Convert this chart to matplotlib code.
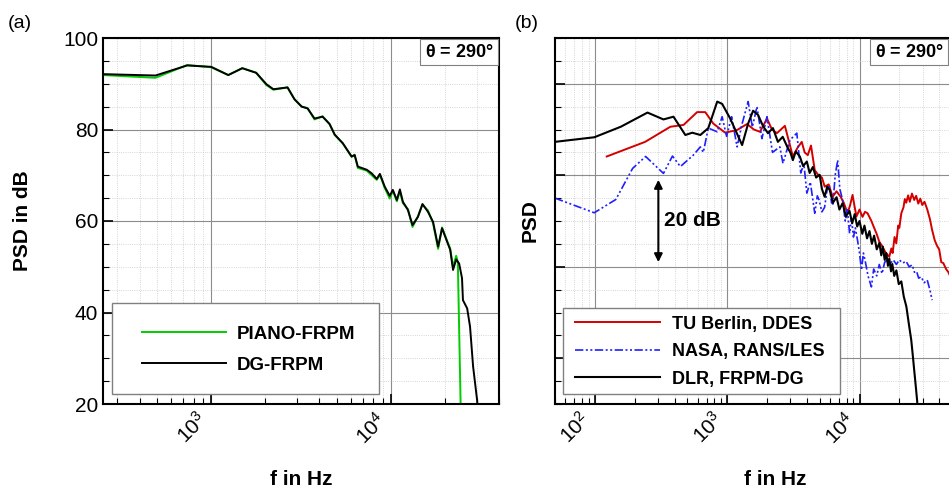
import numpy as np
import matplotlib
matplotlib.use("Agg")
import matplotlib.pyplot as plt
from matplotlib.patches import Rectangle
from matplotlib.ticker import LogLocator, MultipleLocator, NullFormatter, FuncFormatter

plt.rcParams['font.family'] = ['Liberation Sans', 'DejaVu Sans']
plt.rcParams['mathtext.default'] = 'regular'

# ---- panel (a) data ----
f_dg = [250, 490, 735, 1000, 1245, 1490, 1780, 2030, 2220, 2660, 2910, 3190, 3440,
        3760, 4170, 4560, 4870, 5400, 6050, 6290, 6550, 7350, 7830, 8350, 8690,
        9250, 9860, 10260, 10800, 11230, 11670, 12450, 13200, 14150, 15000, 16100,
        17180, 18330, 19280, 20560, 21400, 22200, 23100, 24000, 24900, 25200,
        26600, 27600, 28700, 30200, 31000]
psd_dg = [92.1, 91.8, 94.0, 93.7, 91.9, 93.4, 92.4, 89.9, 88.8, 89.2, 86.6, 85.0, 84.6,
          82.4, 82.8, 81.2, 78.9, 77.0, 74.1, 74.4, 71.9, 71.2, 70.4, 69.2, 70.3,
          67.5, 65.5, 66.8, 64.6, 66.9, 64.2, 62.4, 59.1, 60.9, 63.7, 62.0,
          59.8, 54.4, 58.4, 55.5, 53.7, 49.3, 51.6, 50.7, 47.5, 42.7,
          40.9, 36.9, 28.2, 20.9, 15.0]

f_piano = [250, 490, 735, 1000, 1245, 1490, 1780, 2030, 2220, 2660, 2910, 3190, 3440,
           3760, 4170, 4560, 4870, 5400, 6050, 6290, 6550, 7350, 7830, 8350, 8690,
           9250, 9860, 10260, 10800, 11230, 11670, 12450, 13200, 14150, 15000, 16100,
           17180, 18330, 19280, 20560, 21400, 22200, 23100, 23600, 24600]
psd_piano = [91.9, 91.3, 94.1, 93.6, 91.9, 93.4, 92.4, 89.7, 88.7, 89.2, 86.6, 85.0, 84.7,
             82.2, 82.9, 81.2, 78.8, 77.0, 74.0, 74.5, 71.6, 71.0, 70.0, 69.0, 70.1,
             67.2, 64.9, 66.6, 64.3, 66.5, 63.9, 62.6, 58.7, 61.0, 63.6, 62.3,
             59.5, 53.9, 58.6, 55.7, 54.0, 50.0, 52.4, 51.0, 15.0]

# ---- panel (b) data ----
f_dlr = [50, 99, 157, 250, 330, 393, 483, 545, 627, 720, 841, 916, 1054, 1297, 1440,
         1570, 1711, 1870, 2033, 2218, 2417, 2630, 2877, 3000, 3137, 3300, 3540, 3750,
         4000, 4200, 4440, 4700, 5000, 5200, 5450, 5700, 5950, 6300, 6710, 7050, 7450,
         7900, 8410, 8800, 9200, 9600, 10000, 10500, 10900, 11400, 11900, 12400, 12900,
         13500, 14130, 14600, 15000, 15500, 15950, 16400, 16800, 17300, 17700, 18300,
         19000, 19800, 20700, 21600, 22600, 23600, 24600, 25300, 25900, 26600, 27300,
         28000]
psd_dlr = [57.3, 58.3, 60.6, 63.7, 62.2, 62.8, 58.8, 59.3, 58.8, 60.3, 66.1, 65.6, 62.4,
           56.6, 61.3, 64.1, 63.2, 60.7, 59.2, 60.3, 57.3, 58.4, 55.9, 55.0, 53.3, 55.2,
           54.1, 52.0, 53.0, 50.5, 51.8, 49.5, 50.1, 47.0, 45.3, 47.5, 46.8, 44.0, 45.2,
           42.5, 43.9, 41.0, 42.2, 39.5, 41.5, 38.8, 40.0, 37.2, 39.0, 36.2, 37.8, 35.0,
           36.8, 33.8, 35.2, 32.5, 34.4, 31.5, 33.0, 30.2, 31.8, 29.0, 30.6, 28.0,
           29.2, 26.2, 26.8, 23.5, 21.3, 17.5, 14.0, 10.5, 7.4, 4.0, 0.5,
           -5.0]

f_tub = [123, 240, 372, 468, 593, 683, 785, 966, 1190, 1413, 1590, 1770, 2000, 2180,
         2377, 2730, 3136, 3400, 3660, 3850, 4066, 4300, 4590, 4900, 5200, 5460, 5850,
         6270, 6700, 7200, 7600, 8130, 8500, 8860, 9200, 9490, 10000, 10540, 11000,
         11500, 12300, 12900, 13430, 14100, 14900, 15800, 16800, 17400, 17800, 18400,
         18970, 19600, 20000, 20700, 21500, 22000, 22550, 23300, 24000, 24900, 25900,
         26800, 27800, 28800, 29800, 31000, 32450, 34000, 35400, 37000, 38500, 40000,
         41500, 43000, 45100, 47000, 50000]
psd_tub = [54.1, 57.3, 60.6, 61.0, 63.8, 63.8, 61.3, 59.3, 59.9, 61.2, 60.0, 59.5, 62.4,
           60.0, 59.2, 60.8, 54.1, 56.0, 57.3, 55.0, 54.4, 56.5, 51.1, 50.0, 49.5, 47.5,
           48.0, 45.3, 46.5, 45.3, 44.0, 41.7, 43.5, 45.7, 43.0, 41.0, 42.5, 40.9, 42.0,
           41.7, 40.0, 38.5, 37.3, 35.5, 34.4, 33.0, 32.2, 34.0, 33.0, 36.5,
           35.1, 39.0, 38.5, 41.7, 43.0, 44.8, 44.0, 45.6, 44.2, 46.0, 44.6,
           45.5, 43.8, 44.9, 43.5, 44.2, 42.6, 40.5, 38.0, 35.8, 34.6, 33.8,
           31.0, 30.8, 29.5, 28.8, 27.0]

f_nasa = [50, 99, 144, 193, 242, 330, 386, 443, 555, 627, 660, 720, 841, 916, 990, 1080,
          1189, 1290, 1440, 1550, 1679, 1830, 2000, 2200, 2500, 2640, 2980, 3360, 3600,
          3800, 4000, 4250, 4590, 4800, 4950, 5200, 5450, 5700, 5940, 6150, 6300, 6550,
          6840, 7100, 7450, 7800, 8100, 8410, 8700, 9000, 9300, 9660, 10000, 10350,
          10700, 11000, 11600, 12300, 12800, 13500, 14100, 14800, 15500, 16250, 17000,
          18000, 19000, 20000, 21200, 22500, 23700, 25000, 26000, 27000, 28000, 29200,
          30800, 32500, 34000, 35400]
psd_nasa = [45.0, 41.8, 44.7, 51.5, 54.1, 50.4, 54.2, 51.9, 54.4, 56.2, 55.0, 60.3, 59.5,
            62.8, 58.5, 62.8, 56.2, 61.0, 66.1, 60.5, 65.0, 58.0, 62.8, 55.0, 56.2, 52.6,
            57.7, 59.2, 50.5, 52.5, 46.1, 48.5, 41.7, 45.5, 44.6, 42.0, 43.0, 47.0, 47.5,
            44.0, 43.7, 50.0, 53.3, 47.0, 44.6, 40.0, 42.5, 37.3, 40.5, 36.5, 38.5,
            35.8, 33.0, 29.3, 33.0, 31.5, 28.0, 25.6, 29.5, 28.0, 30.5, 28.5, 31.0,
            31.5, 30.6, 31.5, 30.5, 31.5, 30.8, 31.2, 30.0, 30.4, 28.8, 29.0, 27.5,
            27.8, 26.5, 27.1, 25.0, 22.7]

W, H = 949, 488
fig = plt.figure(figsize=(W / 100, H / 100), dpi=100)
ax1 = fig.add_axes([103 / W, 1 - 404 / H, (499 - 103) / W, 366 / H])
ax2 = fig.add_axes([555 / W, 1 - 404 / H, (952 - 555) / W, 366 / H])


def pow10(v, pos):
    return r'$10^{%d}$' % round(np.log10(v))


def style(ax, theta_x):
    ax.set_xscale('log')
    ax.xaxis.set_major_locator(LogLocator(base=10))
    ax.xaxis.set_minor_locator(LogLocator(base=10, subs=np.arange(2, 10)))
    ax.xaxis.set_major_formatter(FuncFormatter(pow10))
    ax.xaxis.set_minor_formatter(NullFormatter())
    ax.yaxis.set_major_locator(MultipleLocator(20))
    ax.yaxis.set_minor_locator(MultipleLocator(5))
    ax.grid(which='major', color='#8c8c8c', lw=0.8)
    ax.grid(which='minor', color='#c8c8c8', lw=0.6, ls=':')
    ax.set_axisbelow(True)
    ax.tick_params(which='both', direction='in', labelsize=15)
    ax.tick_params(which='major', length=7, width=1.2)
    ax.tick_params(which='minor', length=4, width=0.8)
    for lab in ax.get_xticklabels():
        lab.set_rotation(45)
        lab.set_ha('right')
    for s in ax.spines.values():
        s.set_linewidth(1.5)
    ax.annotate(r'$\theta$ = 290$\degree$', xy=(theta_x, 1), xycoords='axes fraction',
                xytext=(-4, -4), textcoords='offset points', ha='right', va='top',
                fontsize=13, fontweight='bold',
                bbox=dict(boxstyle='square,pad=0.25', fc='white', ec='#808080', lw=0.8))


def legend_box(ax, x0, y0, w, h):
    ax.add_patch(Rectangle((x0, y0), w, h, transform=ax.transAxes, fc='white',
                           ec='#808080', lw=1.0, zorder=4))


# ---- (a) ----
style(ax1, 1.0)
ax1.plot(f_piano, psd_piano, color='#00cc00', lw=1.4, label='PIANO-FRPM')
ax1.plot(f_dg, psd_dg, color='black', lw=1.4, label='DG-FRPM')
ax1.set_xlim(250, 40000)
ax1.set_ylim(20, 100)
ax1.set_ylabel('PSD in dB', fontsize=15, fontweight='bold')
ax1.set_xlabel('f in Hz', fontsize=15, fontweight='bold', va='top')
ax1.yaxis.set_label_coords(-0.18, 0.5)
ax1.xaxis.set_label_coords(0.5, -0.18)
legend_box(ax1, 0.023, 0.027, 0.674, 0.25)
leg1 = ax1.legend(loc='upper left', bbox_to_anchor=(0.0985, 0.2148), frameon=False,
                  borderaxespad=0, borderpad=0, handlelength=4.48, handletextpad=0.59,
                  labelspacing=0.74, prop={'weight': 'bold', 'size': 13.5})
leg1.set_zorder(5)

# ---- (b) ----
style(ax2, 0.992)
ax2.plot(f_tub, psd_tub, color='#d40000', lw=1.4, label='TU Berlin, DDES')
ax2.plot(f_nasa, psd_nasa, color='#1f1fff', lw=1.2, dashes=[5, 1.5, 1.2, 1.5, 1.2, 1.5],
         label='NASA, RANS/LES')
ax2.plot(f_dlr, psd_dlr, color='black', lw=1.5, label='DLR, FRPM-DG')
ax2.set_xlim(50, 50000)
ax2.set_ylim(0, 80)
ax2.set_yticks([10, 30, 50, 70])
ax2.set_yticklabels([])
ax2.set_ylabel('PSD', fontsize=15, fontweight='bold')
ax2.set_xlabel('f in Hz', fontsize=15, fontweight='bold', va='top')
ax2.yaxis.set_label_coords(-0.038, 0.5)
ax2.xaxis.set_label_coords(0.554, -0.18)
ax2.annotate('', xy=(302, 49), xytext=(302, 31),
             arrowprops=dict(arrowstyle='<|-|>', color='black', lw=1.5,
                             mutation_scale=12, shrinkA=0, shrinkB=0))
ax2.text(331, 40, '20 dB', fontsize=15, fontweight='bold', ha='left', va='center')
legend_box(ax2, 0.020, 0.027, 0.698, 0.235)
leg2 = ax2.legend(loc='upper left', bbox_to_anchor=(0.0504, 0.2413), frameon=False,
                  borderaxespad=0, borderpad=0, handlelength=4.7, handletextpad=0.66,
                  labelspacing=0.58, prop={'weight': 'bold', 'size': 13})
leg2.set_zorder(5)

fig.text(8 / W, 1 - 23 / H, '(a)', fontsize=14, va='center', ha='left')
fig.text(515 / W, 1 - 24 / H, '(b)', fontsize=14, va='center', ha='left')

fig.savefig('out.png', dpi=100)
